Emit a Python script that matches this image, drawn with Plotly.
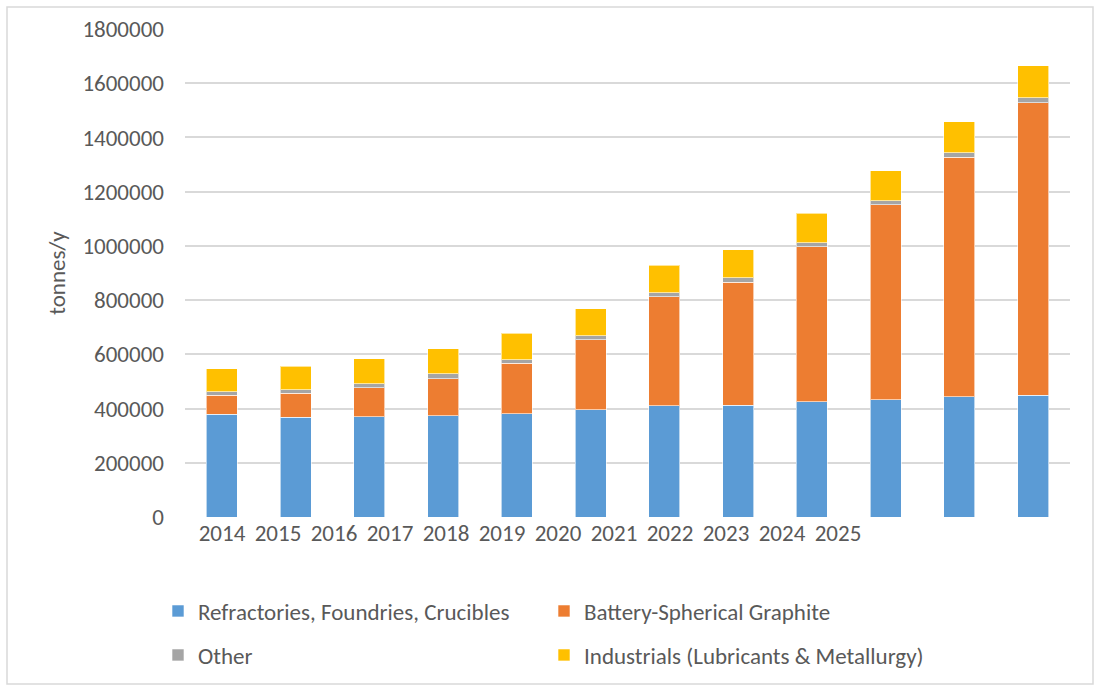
import plotly.graph_objects as go

years = ["2014", "2015", "2016", "2017", "2018", "2019", "2020", "2021", "2022", "2023", "2024", "2025"]
refractories = [379000, 368000, 369000, 373000, 381000, 395000, 411000, 413000, 426000, 433000, 443000, 450000]
battery = [71000, 88000, 108000, 137000, 186000, 258000, 401000, 453000, 570000, 718000, 884000, 1078000]
other = [12000, 13000, 15000, 18000, 13000, 16000, 15000, 17000, 16000, 16000, 16000, 18000]
industrials = [84000, 87000, 91000, 92000, 98000, 100000, 102000, 103000, 109000, 110000, 115000, 118000]

series = [
    ("Refractories, Foundries, Crucibles", refractories, "#5B9BD5", "legend"),
    ("Battery-Spherical Graphite", battery, "#ED7D31", "legend"),
    ("Other", other, "#A5A5A5", "legend2"),
    ("Industrials (Lubricants & Metallurgy)", industrials, "#FFC000", "legend2"),
]

FONT = "Carlito, Lato, 'Open Sans', sans-serif"
TXT = "#595959"
FS = 23

fig = go.Figure()
for name, vals, color, leg in series:
    fig.add_trace(go.Bar(
        x=years, y=vals, name=name, legend=leg,
        marker=dict(color=color, line=dict(color="rgba(255,255,255,0.6)", width=1)),
    ))

# category labels as they appear in the source: squeezed to the left
fig.add_trace(go.Scatter(x=years, y=[None] * len(years), xaxis="x2", showlegend=False,
                         hoverinfo="skip", mode="markers"))

W, H = 1097, 688
L, R, T, B = 185, 27, 29, 171
pw, ph = W - L - R, H - T - B

label_first, label_step = 222, 56
r0 = -(label_first - L) / label_step
r1 = r0 + pw / label_step

legend_common = dict(orientation="h", xref="container", yref="container",
                     xanchor="left", yanchor="middle", traceorder="normal",
                     entrywidth=341, entrywidthmode="pixels",
                     font=dict(size=FS, color=TXT), bgcolor="rgba(0,0,0,0)")

fig.update_layout(
    width=W, height=H,
    margin=dict(l=L, r=R, t=T, b=B),
    paper_bgcolor="white", plot_bgcolor="white",
    barmode="stack", bargap=0.58,
    font=dict(family=FONT, size=FS, color=TXT),
    xaxis=dict(showticklabels=False, showgrid=False, zeroline=False, showline=False,
               ticks=""),
    xaxis2=dict(overlaying="x", side="bottom", type="category", range=[r0, r1],
                showgrid=False, zeroline=False, showline=False, ticks="",
                tickfont=dict(size=FS, color=TXT), anchor="y"),
    yaxis=dict(range=[0, 1800000], dtick=200000, tickformat="d",
               showgrid=True, gridcolor="#d9d9d9", gridwidth=1.5,
               zeroline=False, showline=False, ticks="",
               ticklabelstandoff=20,
               tickfont=dict(size=FS, color=TXT),
               title=dict(text="tonnes/y", font=dict(size=FS, color=TXT), standoff=10)),
    legend=dict(x=158 / W, y=(H - 611) / H, **legend_common),
    legend2=dict(x=158 / W, y=(H - 655) / H, **legend_common),
    showlegend=True,
)

# outer chart border
fig.add_shape(type="rect", xref="paper", yref="paper",
              x0=(7 - L) / pw, x1=(1093 - L) / pw,
              y0=(H - B - 684) / ph, y1=(H - B - 7) / ph,
              line=dict(color="#d9d9d9", width=1.5), fillcolor="rgba(0,0,0,0)", layer="below")

fig.write_html("out.html", config={"displayModeBar": False},
               post_script="document.body.style.margin='0';")
